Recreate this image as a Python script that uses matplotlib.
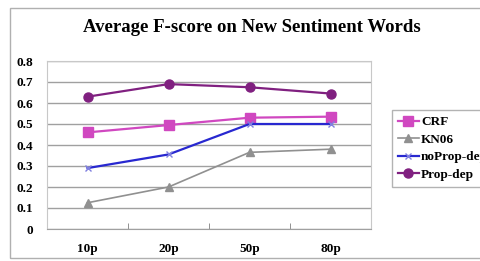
import matplotlib

matplotlib.use("Agg")
import matplotlib.pyplot as plt
from matplotlib.patches import Rectangle

categories = ["10p", "20p", "50p", "80p"]
crf = [0.46, 0.495, 0.53, 0.535]
kn06 = [0.125, 0.2, 0.365, 0.38]
noprop_dep = [0.29, 0.355, 0.5, 0.5]
prop_dep = [0.63, 0.69, 0.675, 0.645]

plt.rcParams["font.family"] = ["Liberation Serif", "DejaVu Serif"]
plt.rcParams["font.weight"] = "bold"

W, H = 481, 261
fig = plt.figure(figsize=(W / 100, H / 100), dpi=100)
fig.patch.set_facecolor("white")

# outer chart frame (runs off the right edge like the source)
fig.patches.append(Rectangle((10 / W, 3 / H), 1.2, 1 - 11 / H, transform=fig.transFigure,
                             fill=False, edgecolor="#b0b0b0", linewidth=1.0))

ax = fig.add_axes([47 / W, 1 - 229 / H, (371 - 47) / W, (229 - 61) / H])
x = [i + 0.5 for i in range(len(categories))]

ax.plot(x, crf, color="#d048c0", marker="s", markersize=6.5, linewidth=1.6, label="CRF")
ax.plot(x, kn06, color="#909090", marker="^", markersize=6, linewidth=1.2, label="KN06")
ax.plot(x, noprop_dep, color="#2828d0", marker="x", markersize=5, markeredgecolor="#8080e0",
        linewidth=1.6, label="noProp-dep")
ax.plot(x, prop_dep, color="#802080", marker="o", markersize=6.5, linewidth=1.6, label="Prop-dep")

ax.set_xlim(0, 4)
ax.set_ylim(0, 0.8)
ax.set_yticks([0, 0.1, 0.2, 0.3, 0.4, 0.5, 0.6, 0.7, 0.8])
ax.set_yticklabels(["0", "0.1", "0.2", "0.3", "0.4", "0.5", "0.6", "0.7", "0.8"])
ax.yaxis.grid(True, color="#a0a0a0", linewidth=1.0)
ax.set_axisbelow(True)
ax.tick_params(axis="y", length=0, pad=10, labelsize=9.5)

ax.set_xticks(x)
ax.set_xticklabels(categories)
ax.set_xticks([1, 2, 3], minor=True)
ax.tick_params(axis="x", which="major", length=0, pad=10, labelsize=9.5)
ax.tick_params(axis="x", which="minor", length=4, direction="in", color="#808080")

for side in ("top", "right", "left"):
    ax.spines[side].set_color("#c8c8c8")
ax.spines["bottom"].set_color("#a0a0a0")

fig.text(252 / W, 1 - 28 / H, "Average F-score on New Sentiment Words",
         ha="center", va="center", fontsize=13.5, fontweight="bold")

# legend box runs past the right edge, as in the source image
fig.legend(loc="upper left", bbox_to_anchor=(392 / W, 1 - 110 / H), fontsize=9.5,
           frameon=True, fancybox=False, edgecolor="#a0a0a0", borderpad=0.45,
           labelspacing=0.4, handlelength=1.6, handletextpad=0.15, borderaxespad=0)

fig.savefig("out.png", dpi=100)
